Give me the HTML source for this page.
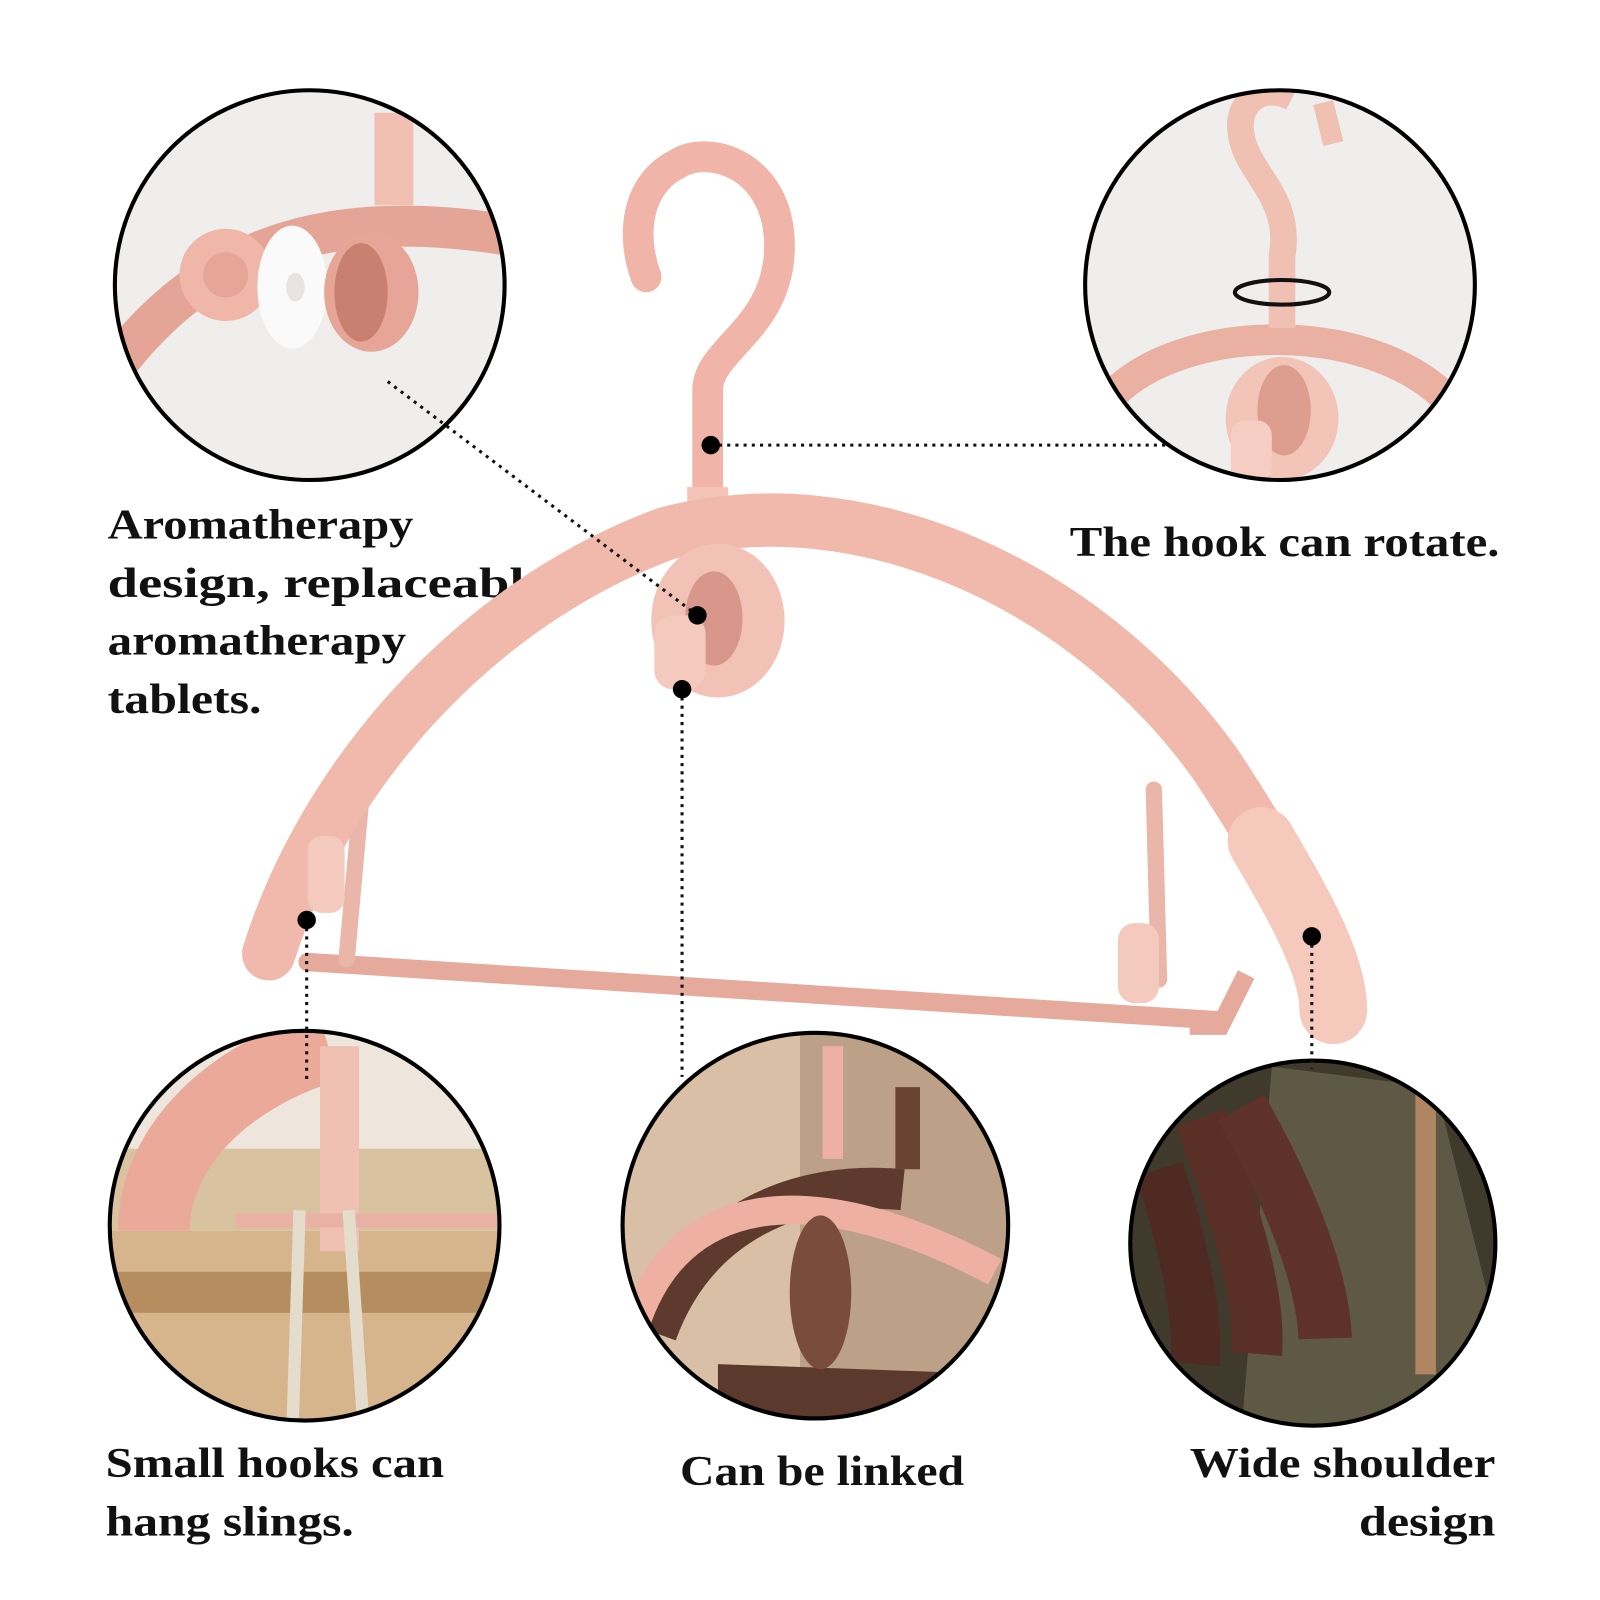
<!DOCTYPE html>
<html><head><meta charset="utf-8"><style>
html,body{margin:0;padding:0;background:#fff;}
svg{display:block;}
text{font-family:"Liberation Serif",serif;font-weight:bold;fill:#111;}
</style></head><body>
<svg width="1600" height="1600" viewBox="0 0 1560 1560" xmlns="http://www.w3.org/2000/svg">
<defs>
<clipPath id="c1"><circle cx="302" cy="278" r="190"/></clipPath>
<clipPath id="c2"><circle cx="1248" cy="278" r="190"/></clipPath>
<clipPath id="c3"><circle cx="297" cy="1195" r="190"/></clipPath>
<clipPath id="c4"><circle cx="795" cy="1195" r="188"/></clipPath>
<clipPath id="c5"><circle cx="1280" cy="1212" r="178"/></clipPath>
</defs>

<!-- labels -->
<g font-size="41">
<text x="105" y="525" textLength="298" lengthAdjust="spacingAndGlyphs">Aromatherapy</text>
<text x="105" y="582" textLength="430" lengthAdjust="spacingAndGlyphs">design, replaceable</text>
<text x="105" y="638" textLength="291" lengthAdjust="spacingAndGlyphs">aromatherapy</text>
<text x="105" y="695" textLength="150" lengthAdjust="spacingAndGlyphs">tablets.</text>
<text x="1043" y="542" textLength="419" lengthAdjust="spacingAndGlyphs">The hook can rotate.</text>
<text x="103" y="1440" textLength="330" lengthAdjust="spacingAndGlyphs">Small hooks can</text>
<text x="103" y="1497" textLength="242" lengthAdjust="spacingAndGlyphs">hang slings.</text>
<text x="663" y="1448" textLength="277" lengthAdjust="spacingAndGlyphs">Can be linked</text>
<text x="1160" y="1440" textLength="298" lengthAdjust="spacingAndGlyphs">Wide shoulder</text>
<text x="1325" y="1497" textLength="133" lengthAdjust="spacingAndGlyphs">design</text>
</g>

<!-- main hanger -->
<g fill="none" stroke-linecap="round">
<path d="M300 938 L1190 995" stroke="#e6aa9c" stroke-width="18"/>
<path d="M338 935 L352 780" stroke="#eab6a9" stroke-width="16"/>
<path d="M1130 955 L1125 770" stroke="#eab6a9" stroke-width="16"/>
<path d="M690 500 L690 380 C690 340 760 320 760 240 C760 160 690 140 660 160 C620 180 615 230 630 270" stroke="#f0b5a8" stroke-width="30"/>
<path d="M690 475 L690 500" stroke="#f4c4b8" stroke-width="40" stroke-linecap="butt"/>
<path d="M262 930 C315 760 460 590 650 520 C840 470 1060 570 1185 745 C1245 835 1290 920 1300 970" stroke="#f0b9ab" stroke-width="52"/>
<path d="M1230 820 C1265 880 1300 940 1300 985" stroke="#f6c9bd" stroke-width="66"/>
</g>
<path d="M1160 1000 L1190 1000 L1215 950" fill="none" stroke="#e6aa9c" stroke-width="18"/>
<ellipse cx="700" cy="605" rx="65" ry="75" fill="#f2c2b6"/>
<ellipse cx="696" cy="603" rx="28" ry="46" fill="#d9968a"/>
<rect x="638" y="600" width="50" height="72" rx="18" fill="#f4cabf"/>
<rect x="1090" y="900" width="40" height="78" rx="16" fill="#f4cabf"/>
<rect x="300" y="815" width="36" height="75" rx="14" fill="#f4cabf"/>

<!-- circle 1 -->
<g clip-path="url(#c1)">
<rect x="100" y="80" width="400" height="400" fill="#efeeec"/>
<path d="M110 360 C200 240 320 200 500 230" stroke="#e5a596" stroke-width="40" fill="none"/>
<rect x="365" y="110" width="38" height="90" fill="#f2c0b3"/>
<circle cx="220" cy="268" r="45" fill="#f0b7a9"/><circle cx="220" cy="268" r="22" fill="#e7a597"/>
<ellipse cx="285" cy="280" rx="34" ry="60" fill="#fafafa"/><ellipse cx="288" cy="280" rx="9" ry="14" fill="#e8e4e2"/>
<ellipse cx="362" cy="285" rx="46" ry="58" fill="#e6a596"/><ellipse cx="352" cy="285" rx="26" ry="48" fill="#c98070"/>
</g>
<circle cx="302" cy="278" r="190" fill="none" stroke="#000" stroke-width="4"/>

<!-- circle 2 -->
<g clip-path="url(#c2)">
<rect x="1050" y="80" width="400" height="400" fill="#efeeec"/>
<path d="M1080 390 C1150 310 1350 310 1420 400" stroke="#eab0a2" stroke-width="30" fill="none"/>
<path d="M1250 320 L1250 250 C1260 190 1215 170 1210 130 C1205 100 1230 80 1260 95" stroke="#f0c0b3" stroke-width="26" fill="none"/>
<path d="M1290 100 L1300 140" stroke="#f0c0b3" stroke-width="20"/>
<ellipse cx="1250" cy="408" rx="55" ry="60" fill="#f3c4b8"/><ellipse cx="1252" cy="400" rx="26" ry="44" fill="#dd9d8f"/>
<rect x="1200" y="410" width="40" height="60" rx="14" fill="#f5cdc3"/>
<ellipse cx="1250" cy="285" rx="46" ry="12" fill="none" stroke="#111" stroke-width="4"/>
</g>
<circle cx="1248" cy="278" r="190" fill="none" stroke="#000" stroke-width="4"/>

<!-- circle 3 -->
<g clip-path="url(#c3)">
<rect x="100" y="1000" width="400" height="400" fill="#eee6dc"/>
<rect x="100" y="1200" width="400" height="200" fill="#d7b58c"/>
<rect x="100" y="1240" width="400" height="40" fill="#b58d5e"/>
<rect x="100" y="1120" width="400" height="80" fill="#d9c2a0"/>
<path d="M150 1200 C150 1120 220 1050 320 1020" stroke="#eaa999" stroke-width="70" fill="none"/>
<rect x="312" y="1020" width="38" height="200" fill="#f0c0b3"/>
<path d="M230 1190 L490 1190" stroke="#eab2a4" stroke-width="14"/>
<path d="M292 1180 L285 1400 M340 1180 L355 1400" stroke="#e4dccd" stroke-width="12"/>
</g>
<circle cx="297" cy="1195" r="190" fill="none" stroke="#000" stroke-width="4"/>

<!-- circle 4 -->
<g clip-path="url(#c4)">
<rect x="600" y="1000" width="400" height="400" fill="#d8bfa6"/>
<rect x="780" y="1000" width="220" height="400" fill="#bca087"/>
<path d="M640 1300 C680 1190 780 1150 880 1160" stroke="#5e3a2e" stroke-width="40" fill="none"/>
<path d="M620 1290 C660 1170 780 1140 970 1240" stroke="#eeb0a1" stroke-width="28" fill="none"/>
<path d="M812 1020 L812 1130" stroke="#eeb0a1" stroke-width="20"/>
<path d="M885 1060 L885 1140" stroke="#6b4334" stroke-width="24"/>
<path d="M700 1330 L980 1340 L980 1400 L700 1400Z" fill="#5b3a2d"/>
<ellipse cx="800" cy="1260" rx="30" ry="75" fill="#7a4c3c"/>
</g>
<circle cx="795" cy="1195" r="188" fill="none" stroke="#000" stroke-width="4"/>

<!-- circle 5 -->
<g clip-path="url(#c5)">
<rect x="1100" y="1030" width="360" height="370" fill="#3f3a2c"/>
<path d="M1240 1040 L1400 1060 L1460 1300 L1340 1400 L1210 1400Z" fill="#5e5845"/>
<rect x="1380" y="1040" width="20" height="300" fill="#b08662"/>
<path d="M1130 1140 C1150 1200 1170 1280 1165 1330" stroke="#4f2a22" stroke-width="48" fill="none"/>
<path d="M1170 1090 C1200 1170 1230 1260 1225 1320" stroke="#5a3026" stroke-width="50" fill="none"/>
<path d="M1210 1080 C1250 1150 1290 1240 1292 1305" stroke="#5e3228" stroke-width="52" fill="none"/>
</g>
<circle cx="1280" cy="1212" r="178" fill="none" stroke="#000" stroke-width="4"/>

<!-- connectors -->
<g stroke="#111" stroke-width="3" stroke-dasharray="3 5" fill="none">
<path d="M378 372 L680 600"/>
<path d="M693 434 L1140 434"/>
<path d="M665 672 L665 1050"/>
<path d="M299 897 L299 1052"/>
<path d="M1279 913 L1279 1042"/>
</g>
<g fill="#000">
<circle cx="680" cy="600" r="9"/><circle cx="693" cy="434" r="9"/>
<circle cx="665" cy="672" r="9"/><circle cx="299" cy="897" r="9"/><circle cx="1279" cy="913" r="9"/>
</g>
</svg>
</body></html>
